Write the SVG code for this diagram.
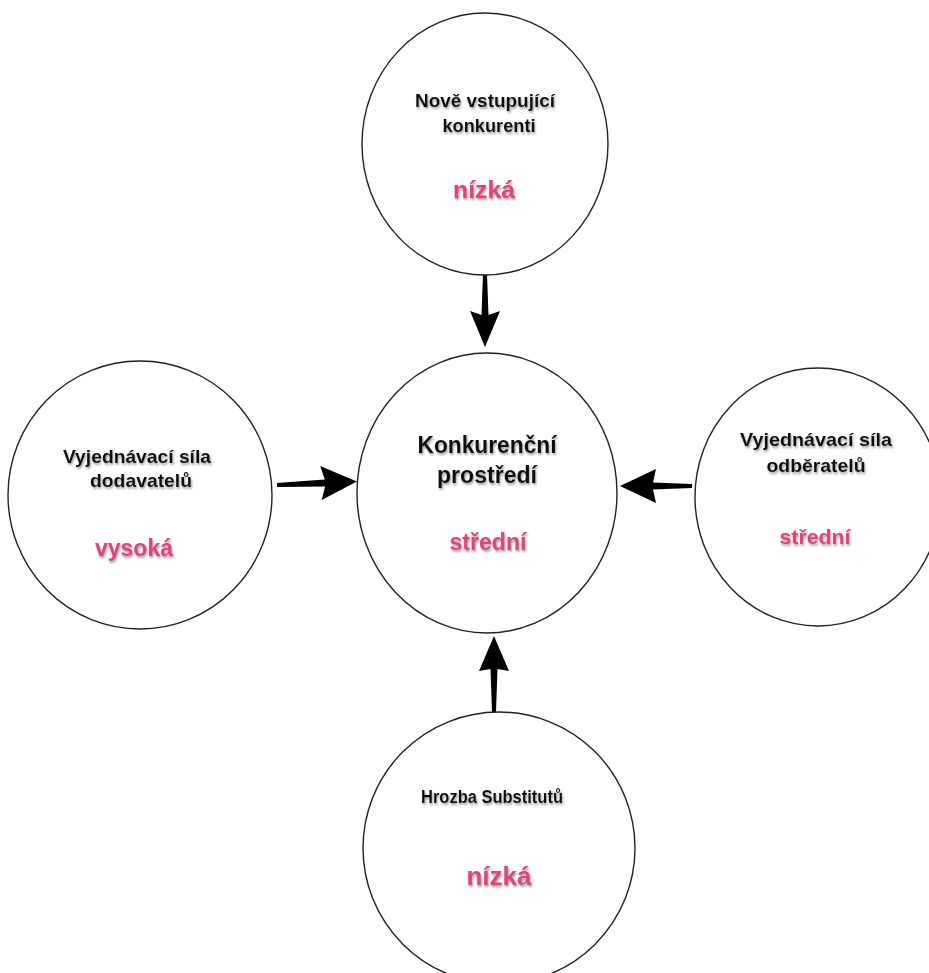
<svg xmlns="http://www.w3.org/2000/svg" width="929" height="973" viewBox="0 0 929 973">
  <style>
    .node { fill: #ffffff; stroke: #222222; stroke-width: 1.4; }
    .label { font-family: "Liberation Sans", Arial, sans-serif; font-weight: bold; fill: #111111; text-anchor: middle; filter: url(#shadow); }
    .level { font-family: "Liberation Sans", Arial, sans-serif; font-weight: bold; fill: #e4437b; text-anchor: middle; filter: url(#shadow); }
    .arrow { fill: #000000; stroke: none; }
  </style>
  <defs>
    <filter id="shadow" x="-10%" y="-30%" width="120%" height="170%">
      <feDropShadow dx="1" dy="2" stdDeviation="1.2" flood-color="#777777" flood-opacity="0.7"/>
    </filter>
  </defs>
  <rect width="929" height="973" fill="#ffffff"/>

  <!-- connectors: tapered block arrows pointing into the centre -->
  <g id="connectors">
    <path class="arrow" transform="translate(485,274) rotate(90)" d="M0,-2 L41,-3.5 L37,-15 L73,0 L37,15 L41,3.5 L0,2 Z"/>
    <path class="arrow" transform="translate(277,485) rotate(-2.5)" d="M0,-2 L48,-3.5 L44,-17 L80,0 L44,17 L48,3.5 L0,2 Z"/>
    <path class="arrow" transform="translate(692,486) rotate(180)" d="M0,-2 L39,-3.5 L36,-17 L72,0 L36,17 L39,3.5 L0,2 Z"/>
    <path class="arrow" transform="translate(494,712) rotate(-90)" d="M0,-2 L43,-3.5 L41,-15 L76,0 L41,15 L43,3.5 L0,2 Z"/>
  </g>

  <g id="node-new-entrants">
    <ellipse class="node" cx="485" cy="144" rx="123" ry="131"/>
    <text class="label" x="485" y="107" font-size="19" textLength="140" lengthAdjust="spacingAndGlyphs">Nově vstupující</text>
    <text class="label" x="489" y="132" font-size="19" textLength="93" lengthAdjust="spacingAndGlyphs">konkurenti</text>
    <text class="level" x="484" y="198" font-size="24" textLength="62" lengthAdjust="spacingAndGlyphs">nízká</text>
  </g>

  <g id="node-rivalry">
    <ellipse class="node" cx="487" cy="493" rx="130" ry="140"/>
    <text class="label" x="487" y="453" font-size="23" textLength="139" lengthAdjust="spacingAndGlyphs">Konkurenční</text>
    <text class="label" x="487" y="483" font-size="23" textLength="100" lengthAdjust="spacingAndGlyphs">prostředí</text>
    <text class="level" x="488" y="550" font-size="23" textLength="77" lengthAdjust="spacingAndGlyphs">střední</text>
  </g>

  <g id="node-suppliers">
    <ellipse class="node" cx="140" cy="495" rx="132" ry="134"/>
    <text class="label" x="137" y="463" font-size="19" textLength="148" lengthAdjust="spacingAndGlyphs">Vyjednávací síla</text>
    <text class="label" x="141" y="487" font-size="19" textLength="102" lengthAdjust="spacingAndGlyphs">dodavatelů</text>
    <text class="level" x="134" y="556" font-size="24" textLength="78" lengthAdjust="spacingAndGlyphs">vysoká</text>
  </g>

  <g id="node-buyers">
    <ellipse class="node" cx="818" cy="497" rx="123" ry="129"/>
    <text class="label" x="816" y="446" font-size="19" textLength="152" lengthAdjust="spacingAndGlyphs">Vyjednávací síla</text>
    <text class="label" x="816" y="472" font-size="19" textLength="99" lengthAdjust="spacingAndGlyphs">odběratelů</text>
    <text class="level" x="815" y="544" font-size="21" textLength="71" lengthAdjust="spacingAndGlyphs">střední</text>
  </g>

  <g id="node-substitutes">
    <ellipse class="node" cx="499" cy="848" rx="136" ry="136"/>
    <text class="label" x="492" y="803" font-size="17.5" textLength="142" lengthAdjust="spacingAndGlyphs">Hrozba Substitutů</text>
    <text class="level" x="499" y="885" font-size="26" textLength="65" lengthAdjust="spacingAndGlyphs">nízká</text>
  </g>
</svg>
